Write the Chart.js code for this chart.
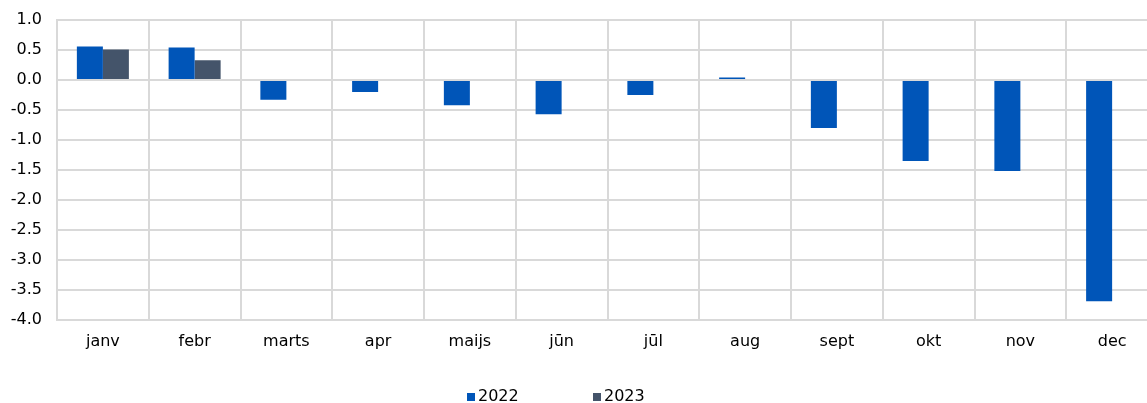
<!DOCTYPE html>
<html><head><meta charset="utf-8">
<script src="https://cdn.jsdelivr.net/npm/chart.js@4"></script>
<style>
html,body{margin:0;padding:0;background:#fff;overflow:hidden;}
#wrap{width:1160px;height:403px;position:relative;}
</style></head>
<body><div id="wrap"><canvas id="c"></canvas></div>
<script>
const categories = ["janv","febr","marts","apr","maijs","jūn","jūl","aug","sept","okt","nov","dec"];
const values2022 = [0.56,0.54,-0.33,-0.20,-0.42,-0.57,-0.25,0.04,-0.80,-1.35,-1.52,-3.69];
const values2023 = [0.51,0.33,null,null,null,null,null,null,null,null,null,null];
const seriesLabels = ["2022","2023"];
const yTicks = [1.0,0.5,0.0,-0.5,-1.0,-1.5,-2.0,-2.5,-3.0,-3.5,-4.0];

const FONT = "'DejaVu Sans', Verdana, sans-serif";
const colors = ["#0055B8","#44546A"];

const legendPlugin = {
  id: 'customLegend',
  afterDraw(chart) {
    const ctx = chart.ctx;
    ctx.save();
    ctx.font = "16px " + FONT;
    ctx.textBaseline = 'middle';
    ctx.textAlign = 'left';
    const y = 397;
    let x = 467;
    chart.data.datasets.forEach((ds) => {
      ctx.fillStyle = ds.backgroundColor;
      ctx.fillRect(x, y - 4, 8, 8);
      ctx.fillStyle = '#000';
      ctx.fillText(ds.label, x + 11, y);
      x += 126;
    });
    ctx.restore();
  }
};

new Chart(document.getElementById('c'), {
  type: 'bar',
  data: {
    labels: categories,
    datasets: [
      {label: seriesLabels[0], data: values2022, backgroundColor: colors[0], categoryPercentage: 0.567, barPercentage: 1.0},
      {label: seriesLabels[1], data: values2023, backgroundColor: colors[1], categoryPercentage: 0.567, barPercentage: 1.0}
    ]
  },
  options: {
    responsive: true,
    maintainAspectRatio: false,
    animation: false,
    layout: {padding: {left: 2, right: 2, top: 20, bottom: 40}},
    plugins: {legend: {display: false}, tooltip: {enabled: false}},
    scales: {
      x: {
        grid: {color: '#D9D9D9', lineWidth: 2, drawTicks: false, offset: true},
        border: {color: '#D9D9D9', width: 2},
        ticks: {color: '#000', font: {family: FONT, size: 16}, padding: 12, maxRotation: 0}
      },
      y: {
        min: -4, max: 1,
        afterBuildTicks(axis) { axis.ticks = yTicks.map(v => ({value: v})); },
        afterFit(axis) { axis.width = 55; axis.paddingTop = 0; axis.paddingBottom = 0; },
        grid: {color: '#D9D9D9', lineWidth: 2, drawTicks: false},
        border: {color: '#D9D9D9', width: 2},
        ticks: {color: '#000', font: {family: FONT, size: 16}, padding: 15,
          callback: v => Number(v).toFixed(1)}
      }
    }
  },
  plugins: [legendPlugin]
});
</script></body></html>
